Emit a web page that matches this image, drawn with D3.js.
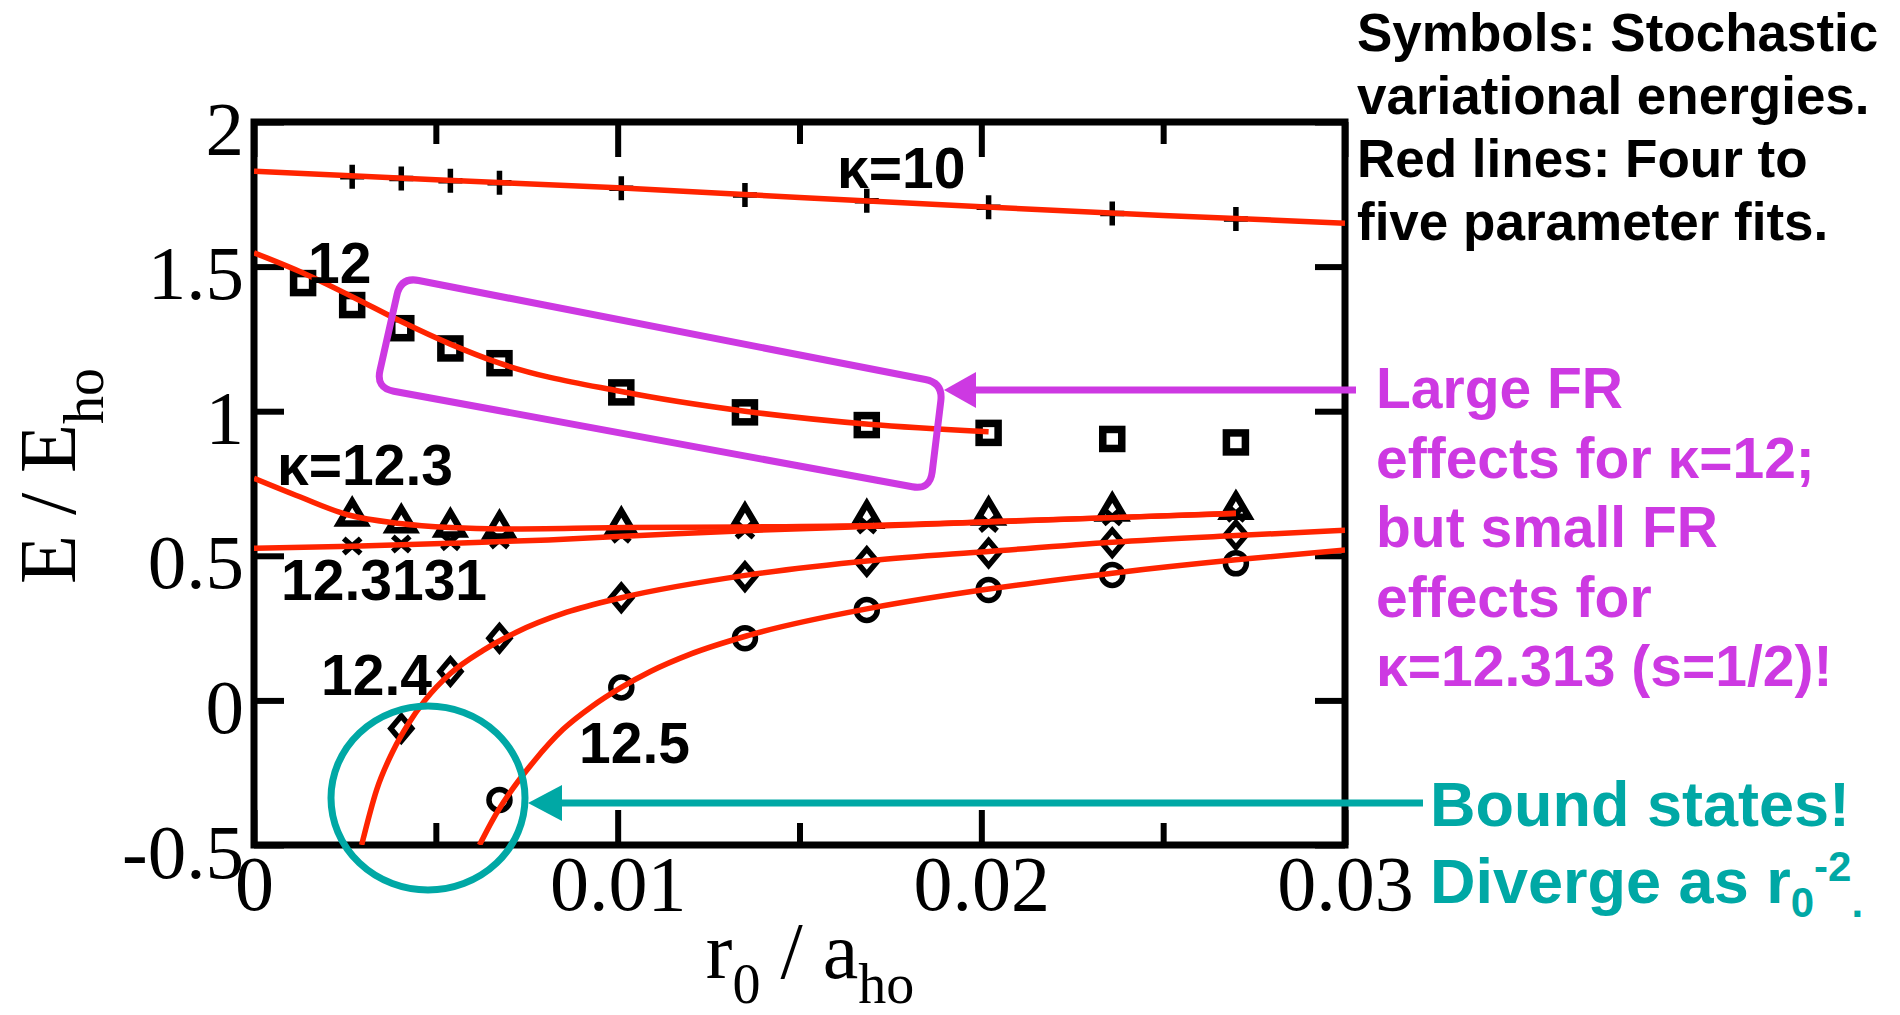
<!DOCTYPE html>
<html>
<head>
<meta charset="utf-8">
<script src="https://cdn.jsdelivr.net/npm/d3@7"></script>
<style>
  body { margin: 0; background: #fff; }
  svg { display: block; }
</style>
</head>
<body>
<svg id="chart" width="1900" height="1015"></svg>
<script>
// ---- data: r0 / a_ho positions of the stochastic-variational runs ----
const rK12 = [0.00135, 0.0027, 0.00405, 0.0054, 0.00675, 0.0101, 0.0135, 0.01685, 0.0202, 0.0236, 0.027];
const rMain = [0.0027, 0.00405, 0.0054, 0.00675, 0.0101, 0.0135, 0.01685, 0.0202, 0.0236, 0.027];
const rK124 = [0.00405, 0.0054, 0.00675, 0.0101, 0.0135, 0.01685, 0.0202, 0.0236, 0.027];
const rK125 = [0.00675, 0.0101, 0.0135, 0.01685, 0.0202, 0.0236, 0.027];

// energies E / E_ho
const eK10     = [1.811, 1.805, 1.797, 1.790, 1.771, 1.748, 1.728, 1.705, 1.684, 1.665];
const eK12     = [1.443, 1.367, 1.287, 1.217, 1.166, 1.065, 0.996, 0.952, 0.925, 0.904, 0.892];
const eK123    = [0.650, 0.626, 0.612, 0.605, 0.616, 0.633, 0.642, 0.653, 0.667, 0.673];
const eK123131 = [0.534, 0.541, 0.549, 0.555, 0.575, 0.589, 0.607, 0.612, 0.635, 0.647];
const eK124    = [-0.097, 0.100, 0.215, 0.355, 0.428, 0.480, 0.510, 0.545, 0.572];
const eK125    = [-0.344, 0.045, 0.215, 0.313, 0.382, 0.434, 0.474];

// fitted curves (sampled)
const fitK10X = [0, 0.005, 0.01, 0.015, 0.02, 0.025, 0.03];
const fitK10Y = [1.830, 1.800, 1.773, 1.739, 1.707, 1.677, 1.650];
const fitK12X = [0, 0.00135, 0.0027, 0.00405, 0.0054, 0.00675, 0.0101, 0.0135, 0.0169, 0.0202];
const fitK12Y = [1.548, 1.478, 1.396, 1.310, 1.232, 1.166, 1.068, 1.000, 0.955, 0.929];
const fitK123X = [0, 0.00126, 0.0026, 0.004, 0.0054, 0.0068, 0.0102, 0.0135, 0.017, 0.0202, 0.0236, 0.027];
const fitK123Y = [0.768, 0.704, 0.641, 0.612, 0.598, 0.593, 0.598, 0.600, 0.605, 0.618, 0.632, 0.647];
const fitK123131X = [0, 0.0027, 0.0054, 0.0081, 0.0109, 0.0135, 0.017, 0.0202, 0.0236, 0.027];
const fitK123131Y = [0.526, 0.533, 0.543, 0.555, 0.572, 0.587, 0.602, 0.617, 0.632, 0.646];
const fitK124X = [0.00296, 0.00337, 0.00383, 0.00425, 0.0047, 0.0054, 0.0063, 0.0072, 0.0086, 0.0101, 0.0136, 0.017, 0.0202, 0.0236, 0.027, 0.03];
const fitK124Y = [-0.5, -0.31, -0.173, -0.08, 0.0, 0.093, 0.173, 0.235, 0.305, 0.355, 0.434, 0.484, 0.515, 0.547, 0.570, 0.588];
const fitK125X = [0.0062, 0.0066, 0.00695, 0.0077, 0.0085, 0.0093, 0.0101, 0.0109, 0.012, 0.0136, 0.017, 0.0202, 0.0236, 0.027, 0.03];
const fitK125Y = [-0.5, -0.405, -0.335, -0.21, -0.10, -0.02, 0.045, 0.10, 0.16, 0.225, 0.32, 0.385, 0.44, 0.486, 0.52];

// axis ticks
const xMajor = [0, 0.01, 0.02, 0.03];
const xMinor = [0.005, 0.015, 0.025];
const yTicks = [2, 1.5, 1, 0.5, 0, -0.5];

// ---- layout ----
const svg = d3.select("#chart");
const P = { left: 254, right: 1345, top: 122, bottom: 845 };
const x = d3.scaleLinear().domain([0, 0.03]).range([P.left, P.right]);
const y = d3.scaleLinear().domain([-0.5, 2]).range([P.bottom, P.top]);

const RED = "#ff2400", MAG = "#cd39e2", TEAL = "#00a8a5";
const serif = "'Liberation Serif', 'Times New Roman', serif";
const sans = "'Liberation Sans', Arial, sans-serif";

svg.append("rect").attr("width", 1900).attr("height", 1015).attr("fill", "#fff");

svg.append("clipPath").attr("id", "plotclip")
  .append("rect").attr("x", P.left).attr("y", P.top)
  .attr("width", P.right - P.left).attr("height", P.bottom - P.top);

// ---- axes ----
function styleAxis(g) {
  g.select(".domain").remove();
  g.selectAll(".tick line").attr("stroke", "#000").attr("stroke-width", 6);
}
const fmtX = d => d === 0 ? "0" : d.toFixed(2);

svg.append("g").attr("transform", `translate(0,${P.bottom})`)
  .call(d3.axisBottom(x).tickValues(xMajor).tickSize(-35).tickFormat(fmtX))
  .call(styleAxis)
  .call(g => g.selectAll(".tick text")
    .attr("y", 65).attr("dy", 0)
    .attr("font-family", serif).attr("font-size", 78).attr("fill", "#000"));
svg.append("g").attr("transform", `translate(0,${P.bottom})`)
  .call(d3.axisBottom(x).tickValues(xMinor).tickSize(-22).tickFormat(""))
  .call(styleAxis);
svg.append("g").attr("transform", `translate(0,${P.top})`)
  .call(d3.axisTop(x).tickValues(xMajor).tickSize(-35).tickFormat(""))
  .call(styleAxis);
svg.append("g").attr("transform", `translate(0,${P.top})`)
  .call(d3.axisTop(x).tickValues(xMinor).tickSize(-22).tickFormat(""))
  .call(styleAxis);
svg.append("g").attr("transform", `translate(${P.left},0)`)
  .call(d3.axisLeft(y).tickValues(yTicks).tickSize(-30).tickFormat(d => String(d)))
  .call(styleAxis)
  .call(g => g.selectAll(".tick text")
    .attr("x", -10).attr("y", 32).attr("dy", 0)
    .attr("font-family", serif).attr("font-size", 77).attr("fill", "#000"));
svg.append("g").attr("transform", `translate(${P.right},0)`)
  .call(d3.axisRight(y).tickValues(yTicks).tickSize(-30).tickFormat(""))
  .call(styleAxis);

// plot frame
svg.append("rect")
  .attr("x", P.left).attr("y", P.top)
  .attr("width", P.right - P.left).attr("height", P.bottom - P.top)
  .attr("fill", "none").attr("stroke", "#000").attr("stroke-width", 7);

// axis titles
const xt = svg.append("text")
  .attr("x", 810).attr("y", 978).attr("text-anchor", "middle")
  .attr("font-family", serif).attr("font-size", 80).attr("fill", "#000");
xt.append("tspan").text("r");
xt.append("tspan").attr("font-size", 56).attr("dy", 25).text("0");
xt.append("tspan").attr("dy", -25).text(" / a");
xt.append("tspan").attr("font-size", 56).attr("dy", 25).text("ho");

const yt = svg.append("text")
  .attr("transform", "translate(75,476) rotate(-90)")
  .attr("text-anchor", "middle")
  .attr("font-family", serif).attr("font-size", 80).attr("fill", "#000");
yt.append("tspan").text("E / E");
yt.append("tspan").attr("font-size", 56).attr("dy", 28).text("ho");

// ---- symbols ----
const markers = svg.append("g").attr("fill", "none").attr("stroke", "#000");
const zip = (xs, ys) => xs.map((v, i) => [v, ys[i]]);

markers.selectAll(".plus").data(zip(rMain, eK10)).join("path")
  .attr("d", "M-12,0H12M0,-12V12").attr("stroke-width", 5.5)
  .attr("transform", d => `translate(${x(d[0])},${y(d[1])})`);

markers.selectAll(".sq").data(zip(rK12, eK12)).join("rect")
  .attr("x", d => x(d[0]) - 9.5).attr("y", d => y(d[1]) - 9.5)
  .attr("width", 19).attr("height", 19).attr("stroke-width", 7.5);

markers.selectAll(".tri").data(zip(rMain, eK123)).join("path")
  .attr("d", "M0,-11L13,11H-13Z").attr("stroke-width", 6.5)
  .attr("stroke-linejoin", "miter")
  .attr("transform", d => `translate(${x(d[0])},${y(d[1])})`);

markers.selectAll(".xm").data(zip(rMain, eK123131)).join("path")
  .attr("d", "M-8.5,-7.5L8.5,7.5M-8.5,7.5L8.5,-7.5").attr("stroke-width", 5.5)
  .attr("transform", d => `translate(${x(d[0])},${y(d[1])})`);

markers.selectAll(".dia").data(zip(rK124, eK124)).join("path")
  .attr("d", "M0,-12.5L10.5,0L0,12.5L-10.5,0Z").attr("stroke-width", 5.5)
  .attr("transform", d => `translate(${x(d[0])},${y(d[1])})`);

markers.selectAll(".circ").data(zip(rK125, eK125)).join("circle")
  .attr("cx", d => x(d[0])).attr("cy", d => y(d[1])).attr("r", 10.5)
  .attr("stroke-width", 5.5);

// ---- fitted curves ----
const line = d3.line().x(d => x(d[0])).y(d => y(d[1])).curve(d3.curveMonotoneX);
const fits = [
  zip(fitK10X, fitK10Y), zip(fitK12X, fitK12Y), zip(fitK123X, fitK123Y),
  zip(fitK123131X, fitK123131Y), zip(fitK124X, fitK124Y), zip(fitK125X, fitK125Y)
];
svg.append("g").attr("clip-path", "url(#plotclip)")
  .selectAll("path").data(fits).join("path")
  .attr("d", line).attr("fill", "none")
  .attr("stroke", RED).attr("stroke-width", 5.5);

// ---- curve labels ----
const labels = [
  { t: "κ=10", x: 837, y: 188 },
  { t: "12", x: 308, y: 283 },
  { t: "κ=12.3", x: 277, y: 485 },
  { t: "12.3131", x: 281, y: 600 },
  { t: "12.4", x: 321, y: 695 },
  { t: "12.5", x: 579, y: 763 }
];
svg.append("g").selectAll("text").data(labels).join("text")
  .attr("x", d => d.x).attr("y", d => d.y)
  .attr("font-family", sans).attr("font-weight", "bold")
  .attr("font-size", 57).attr("fill", "#000")
  .text(d => d.t);

// ---- annotations ----
function roundedPoly(pts, r) {
  const n = pts.length;
  let d = "";
  for (let i = 0; i < n; i++) {
    const p0 = pts[(i - 1 + n) % n], p1 = pts[i], p2 = pts[(i + 1) % n];
    const u = (a, b) => { const dx = a[0] - b[0], dy = a[1] - b[1], L = Math.hypot(dx, dy); return [dx / L, dy / L]; };
    const v1 = u(p0, p1), v2 = u(p2, p1);
    const a = [p1[0] + v1[0] * r, p1[1] + v1[1] * r];
    const b = [p1[0] + v2[0] * r, p1[1] + v2[1] * r];
    d += (i === 0 ? "M" : "L") + a.join(",") + "Q" + p1.join(",") + " " + b.join(",");
  }
  return d + "Z";
}
const ann = svg.append("g");

// highlight box around the kappa = 12 points
ann.append("path")
  .attr("d", roundedPoly([[401, 277], [943, 383], [930, 490], [376, 388]], 18))
  .attr("fill", "none").attr("stroke", MAG).attr("stroke-width", 7);
// magenta arrow
ann.append("line").attr("x1", 970).attr("y1", 390).attr("x2", 1356).attr("y2", 390)
  .attr("stroke", MAG).attr("stroke-width", 7);
ann.append("path").attr("d", "M944,390L976,372L976,408Z").attr("fill", MAG);

// bound-state ellipse and arrow
ann.append("ellipse").attr("cx", 428).attr("cy", 798).attr("rx", 97).attr("ry", 92)
  .attr("fill", "none").attr("stroke", TEAL).attr("stroke-width", 7);
ann.append("line").attr("x1", 555).attr("y1", 803).attr("x2", 1423).attr("y2", 803)
  .attr("stroke", TEAL).attr("stroke-width", 7);
ann.append("path").attr("d", "M528,803L562,785L562,821Z").attr("fill", TEAL);

// ---- side notes ----
const notes = ["Symbols: Stochastic", "variational energies.", "Red lines: Four to", "five parameter fits."];
svg.append("g").selectAll("text").data(notes).join("text")
  .attr("x", 1357).attr("y", (d, i) => 51 + i * 63)
  .attr("font-family", sans).attr("font-weight", "bold").attr("font-size", 53)
  .attr("fill", "#000").text(d => d);

const frNotes = ["Large FR", "effects for κ=12;", "but small FR", "effects for", "κ=12.313 (s=1/2)!"];
svg.append("g").selectAll("text").data(frNotes).join("text")
  .attr("x", 1376).attr("y", (d, i) => 408 + i * 69.5)
  .attr("font-family", sans).attr("font-weight", "bold").attr("font-size", 57)
  .attr("fill", MAG).text(d => d);

svg.append("text").attr("x", 1430).attr("y", 826)
  .attr("font-family", sans).attr("font-weight", "bold").attr("font-size", 63)
  .attr("fill", TEAL).text("Bound states!");
const dv = svg.append("text").attr("x", 1430).attr("y", 903)
  .attr("font-family", sans).attr("font-weight", "bold").attr("font-size", 63)
  .attr("fill", TEAL);
dv.append("tspan").text("Diverge as r");
dv.append("tspan").attr("font-size", 42).attr("dy", 14).text("0");
dv.append("tspan").attr("font-size", 42).attr("dy", -36).text("-2");
dv.append("tspan").attr("font-size", 42).attr("dy", 36).text(".");
</script>
</body>
</html>
